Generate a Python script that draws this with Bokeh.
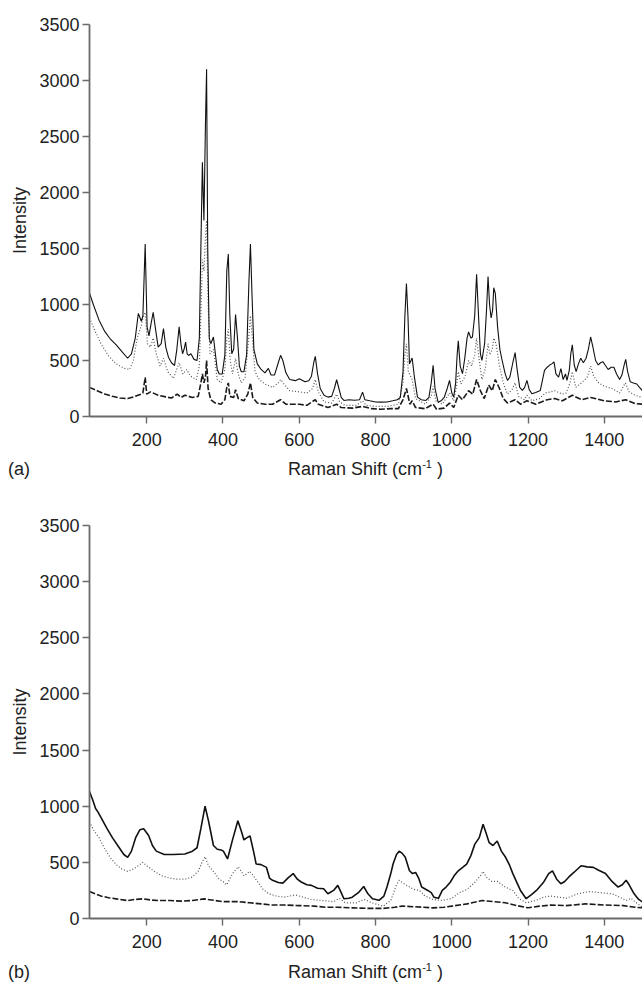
from bokeh.plotting import figure
from bokeh.models import Range1d, FixedTicker, Div
from bokeh.layouts import column, row
from bokeh.embed import file_html
from bokeh.resources import INLINE

# ---------------- data (Raman shift cm-1, intensity) ----------------
A_SOLID = [(50,1100),(60,1000),(75,860),(90,760),(105,690),(120,640),(135,580),(150,520),(160,560),(170,700),
 (178,920),(186,850),(190,900),(196,1540),(201,800),(206,720),(212,840),(217,930),(224,760),(230,620),(238,650),
 (244,785),(250,620),(257,530),(265,480),(273,455),(279,600),(285,800),(290,640),(294,560),(298,600),(302,665),
 (306,560),(310,545),(316,560),(324,510),(332,500),(338,700),(342,1500),(346,2270),(350,1750),(354,2600),(357,3100),
 (360,1500),(364,700),(368,650),(375,710),(380,560),(385,420),(390,380),(398,380),(405,550),(410,1300),(414,1450),
 (418,900),(423,560),(428,600),(433,910),(438,700),(443,450),(448,400),(455,400),(462,550),(468,1200),(472,1540),
 (476,1100),(481,600),(490,470),(500,420),(510,390),(519,430),(526,370),(535,370),(545,480),(551,546),(557,500),
 (565,390),(575,330),(590,320),(600,337),(615,310),(625,320),(632,360),(638,480),(642,537),(648,380),(655,250),
 (665,190),(675,173),(685,180),(692,250),(698,328),(704,250),(710,170),(717,143),(730,150),(745,145),(758,150),
 (766,218),(772,150),(785,140),(800,130),(814,128),(830,130),(845,140),(857,150),(865,170),(872,400),(877,900),
 (881,1188),(885,900),(889,470),(893,500),(896,522),(902,350),(910,173),(920,150),(932,143),(940,170),(946,300),
 (951,457),(956,250),(964,128),(972,140),(980,170),(988,250),(994,322),(1000,210),(1005,173),(1010,300),(1014,550),
 (1017,675),(1022,450),(1028,382),(1034,520),(1040,700),(1044,755),(1050,700),(1054,710),(1060,900),(1065,1270),
 (1070,900),(1075,560),(1079,500),(1086,650),(1091,950),(1095,1250),(1099,1000),(1103,880),(1107,950),(1110,1150),
 (1114,1100),(1120,800),(1126,600),(1132,500),(1140,380),(1146,322),(1152,350),(1160,480),(1166,570),(1172,400),
 (1178,260),(1185,233),(1191,260),(1197,322),(1203,240),(1210,203),(1220,215),(1232,233),(1238,330),(1243,412),
 (1250,440),(1256,457),(1262,470),(1268,487),(1273,380),(1280,352),(1286,427),(1292,330),(1298,380),(1302,322),
 (1308,412),(1312,560),(1316,640),(1321,460),(1326,400),(1332,470),(1338,520),(1345,480),(1352,520),(1358,600),
 (1364,710),(1370,620),(1377,500),(1384,460),(1390,480),(1396,490),(1402,460),(1410,420),(1418,440),(1425,440),
 (1432,380),(1440,330),(1446,370),(1452,460),(1456,510),(1461,400),(1468,310),(1476,300),(1485,290),(1492,260),(1500,230)]

A_DOT = [(50,880),(65,760),(80,650),(100,540),(120,470),(140,430),(155,420),(165,500),(175,700),(185,800),(190,880),
 (196,930),(202,650),(210,620),(217,700),(225,560),(235,450),(244,520),(255,400),(270,340),(285,480),(295,380),
 (305,420),(315,360),(330,330),(338,450),(342,900),(346,1400),(350,1300),(354,1600),(357,1750),(361,1000),(366,560),
 (375,600),(385,330),(395,300),(405,420),(410,700),(414,780),(419,500),(425,380),(433,520),(440,380),(448,300),
 (458,350),(466,650),(472,900),(477,700),(484,400),(495,330),(510,290),(530,260),(545,300),(551,330),(560,290),
 (575,230),(600,220),(620,210),(635,250),(642,330),(650,220),(665,130),(685,120),(698,200),(706,130),(720,100),
 (750,100),(766,140),(775,100),(800,90),(830,90),(860,110),(872,300),(877,550),(881,650),(886,400),(896,330),
 (905,160),(930,110),(946,180),(951,270),(958,140),(975,110),(994,210),(1005,140),(1012,260),(1017,400),(1024,290),
 (1035,360),(1044,500),(1052,450),(1060,550),(1065,700),(1072,500),(1079,330),(1088,430),(1095,650),(1100,550),
 (1106,600),(1110,700),(1116,650),(1125,450),(1135,300),(1146,200),(1158,240),(1166,300),(1175,180),(1190,150),
 (1197,190),(1210,140),(1230,160),(1245,210),(1260,220),(1270,230),(1290,200),(1300,210),(1310,300),(1316,400),
 (1325,260),(1340,300),(1355,350),(1364,450),(1372,360),(1385,300),(1400,270),(1420,250),(1440,210),(1455,300),
 (1465,220),(1480,190),(1500,170)]

A_DASH = [(50,260),(70,230),(90,200),(110,180),(130,165),(150,160),(170,180),(185,200),(190,210),(196,350),(200,200),
 (210,220),(230,190),(250,175),(265,165),(280,200),(290,170),(300,190),(320,170),(335,180),(342,300),(346,380),
 (350,300),(354,350),(357,500),(361,250),(368,150),(380,120),(395,110),(405,150),(410,260),(414,300),(418,180),
 (428,170),(433,240),(440,160),(455,140),(465,200),(472,300),(478,170),(490,120),(510,110),(530,110),(551,150),
 (565,110),(600,110),(620,100),(642,150),(650,110),(675,80),(698,110),(710,80),(740,75),(766,90),(790,70),(814,65),
 (840,70),(860,70),(872,150),(881,250),(890,110),(896,140),(905,80),(930,70),(951,110),(960,65),(980,75),(994,120),
 (1005,80),(1017,190),(1028,150),(1044,230),(1055,200),(1065,330),(1075,230),(1085,160),(1097,280),(1106,230),
 (1114,330),(1125,250),(1135,160),(1146,120),(1166,150),(1180,110),(1197,140),(1220,110),(1250,150),(1270,160),
 (1290,140),(1316,190),(1340,150),(1364,170),(1400,140),(1430,130),(1456,150),(1480,115),(1500,110)]

B_SOLID = [(50,1130),(58,1060),(66,980),(72,950),(80,900),(96,800),(110,720),(128,630),(140,570),(150,545),(160,600),
 (171,720),(182,790),(192,800),(205,740),(215,650),(225,600),(246,570),(270,570),(300,575),(320,600),(332,630),
 (342,800),(353,1000),(362,870),(375,650),(385,617),(395,610),(401,600),(412,530),(425,700),(439,870),(448,780),
 (455,700),(463,720),(471,735),(480,600),(487,485),(500,480),(514,455),(522,360),(530,340),(545,320),(557,315),
 (570,360),(584,400),(595,350),(605,325),(620,300),(632,295),(648,270),(664,265),(675,220),(690,250),(701,295),
 (710,230),(717,176),(730,180),(739,190),(755,230),(769,285),(780,220),(792,176),(809,162),(822,200),(830,280),
 (840,400),(846,485),(855,570),(862,600),(870,580),(878,545),(889,425),(897,400),(905,410),(913,360),(921,280),
 (937,250),(946,230),(953,190),(965,180),(975,250),(985,280),(996,323),(1006,380),(1017,425),(1030,460),(1039,485),
 (1050,560),(1060,660),(1072,720),(1082,840),(1090,760),(1098,675),(1108,650),(1119,690),(1130,600),(1141,545),
 (1152,470),(1160,400),(1168,340),(1180,250),(1195,176),(1208,210),(1222,250),(1240,320),(1254,400),(1264,425),
 (1275,350),(1286,310),(1296,330),(1307,370),(1320,410),(1339,470),(1355,460),(1371,455),(1385,430),(1403,400),
 (1420,330),(1436,280),(1447,300),(1457,340),(1465,300),(1478,220),(1490,170),(1500,147)]

B_DOT = [(50,860),(62,780),(75,720),(90,620),(105,540),(120,480),(135,440),(150,420),(165,440),(178,470),(190,500),
 (200,470),(220,420),(240,380),(260,360),(280,350),(300,350),(320,370),(335,420),(345,500),(353,550),(362,470),
 (375,420),(390,350),(400,330),(410,300),(425,400),(440,460),(448,420),(455,380),(463,400),(470,420),(480,380),
 (490,330),(505,260),(520,220),(540,200),(560,190),(575,200),(590,210),(610,190),(630,170),(660,160),(690,150),
 (705,180),(720,140),(750,140),(770,170),(790,140),(820,110),(840,160),(855,300),(862,340),(870,320),(880,300),
 (900,260),(915,250),(930,200),(950,170),(975,160),(1000,180),(1020,230),(1040,260),(1060,320),(1075,380),(1082,420),
 (1090,370),(1105,330),(1120,330),(1140,280),(1160,250),(1175,180),(1195,140),(1220,160),(1240,190),(1260,200),
 (1280,190),(1300,180),(1330,220),(1360,240),(1390,230),(1420,220),(1440,190),(1457,160),(1470,180),(1480,150),(1500,100)]

B_DASH = [(50,240),(65,220),(80,200),(100,185),(120,175),(150,160),(170,170),(190,175),(210,165),(230,160),(260,160),
 (290,155),(320,160),(350,175),(370,165),(400,150),(440,150),(470,140),(500,130),(530,120),(560,120),(600,115),
 (640,110),(670,100),(700,100),(740,95),(780,90),(820,90),(850,100),(870,110),(900,105),(950,95),(980,100),(1000,110),
 (1040,130),(1080,160),(1110,150),(1140,140),(1170,115),(1200,95),(1230,110),(1260,120),(1300,115),(1350,130),
 (1400,120),(1450,115),(1480,100),(1500,95)]

X_TICKS = [200, 400, 600, 800, 1000, 1200, 1400]
Y_TICKS = [0, 500, 1000, 1500, 2000, 2500, 3000, 3500]
X_LABEL_HTML = 'Raman Shift (cm<sup style="font-size:11px;line-height:0;vertical-align:7px;">-1</sup> )'
Y_LABEL = "Intensity"
PANEL_TAGS = ["(a)", "(b)"]

FONT = "Liberation Sans"


def make_panel(solid, dot, dash, height, border_top, solid_w):
    p = figure(width=642, height=height, output_backend="svg", toolbar_location=None,
               x_range=Range1d(50, 1500), y_range=Range1d(0, 3500),
               min_border_left=89, min_border_right=0, min_border_top=border_top,
               min_border_bottom=36)
    p.outline_line_color = None
    p.grid.visible = False
    p.background_fill_color = "white"
    p.border_fill_color = "white"

    for data, color, dash_pat, w in [(dash, "#1a1a1a", "6 2", 1.6),
                                     (dot, "#555555", "1 2", 1.2),
                                     (solid, "#111111", "solid", solid_w)]:
        xs = [d[0] for d in data]
        ys = [d[1] for d in data]
        p.line(xs, ys, line_color=color, line_width=w, line_dash=dash_pat)

    for ax in (p.xaxis[0], p.yaxis[0]):
        ax.axis_line_color = "#6a6a6a"
        ax.axis_line_width = 1.8
        ax.major_tick_line_color = "#6a6a6a"
        ax.major_tick_line_width = 1.4
        ax.major_tick_out = 7
        ax.major_tick_in = 0
        ax.minor_tick_line_color = None
        ax.major_label_text_font = FONT
        ax.major_label_text_font_size = "18px"
        ax.major_label_text_color = "#222222"
        ax.axis_label_text_font = FONT
        ax.axis_label_text_font_size = "18px"
        ax.axis_label_text_font_style = "normal"
        ax.axis_label_text_color = "#222222"

    p.xaxis.ticker = FixedTicker(ticks=X_TICKS)
    p.yaxis.ticker = FixedTicker(ticks=Y_TICKS)
    p.yaxis.axis_label = Y_LABEL
    p.xaxis.major_label_standoff = 9
    p.yaxis.major_label_standoff = 3
    p.yaxis.axis_label_standoff = 6
    return p


def label_row(tag, pad, height):
    style = ("font-family:'Liberation Sans',Arial,sans-serif;font-size:18px;color:#222222;"
             "line-height:20px;white-space:nowrap;padding-top:%dpx;" % pad)
    d1 = Div(text='<div style="%spadding-left:8px;width:81px;">%s</div>' % (style, tag),
             width=89, height=height, margin=(0, 0, 0, 0))
    d2 = Div(text='<div style="%sdisplay:block;width:553px;text-align:center;">%s</div>' % (style, X_LABEL_HTML),
             width=553, height=height, margin=(0, 0, 0, 0))
    return row(d1, d2, spacing=0)


pa = make_panel(A_SOLID, A_DOT, A_DASH, 24 + 392 + 36, 24, 1.1)
ra = label_row(PANEL_TAGS[0], 7, 38)
pb = make_panel(B_SOLID, B_DOT, B_DASH, 35 + 393 + 36, 35, 1.6)
rb = label_row(PANEL_TAGS[1], 8, 30)

layout = column(pa, ra, pb, rb, spacing=0)
open("out.html", "w").write(file_html(layout, INLINE))
